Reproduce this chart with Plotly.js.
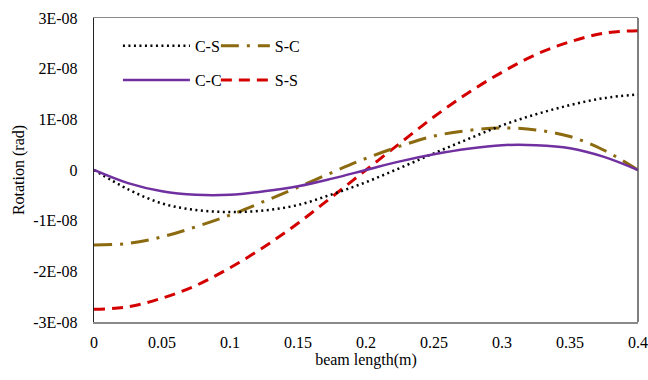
<!DOCTYPE html>
<html>
<head>
<meta charset="utf-8">
<script src="https://cdn.plot.ly/plotly-3.0.1.min.js"></script>
<style>html,body{margin:0;padding:0;background:#fff;}#chart{width:648px;height:380px;}</style>
</head>
<body>
<div id="chart"></div>
<script>
// beam length positions (m)
const beamLength = [0, 0.025, 0.05, 0.075, 0.1, 0.125, 0.15, 0.175, 0.2, 0.225, 0.25, 0.275, 0.3, 0.325, 0.35, 0.375, 0.4];
// rotations (rad)
const rotCS = [0, -0.38e-8, -0.66e-8, -0.79e-8, -0.83e-8, -0.80e-8, -0.69e-8, -0.48e-8, -0.24e-8, 0.04e-8, 0.33e-8, 0.61e-8, 0.88e-8, 1.10e-8, 1.28e-8, 1.42e-8, 1.49e-8];
const rotSC = [-1.48e-8, -1.45e-8, -1.32e-8, -1.12e-8, -0.89e-8, -0.62e-8, -0.34e-8, -0.05e-8, 0.23e-8, 0.47e-8, 0.67e-8, 0.78e-8, 0.83e-8, 0.79e-8, 0.66e-8, 0.39e-8, 0];
const rotCC = [0, -0.26e-8, -0.42e-8, -0.49e-8, -0.49e-8, -0.42e-8, -0.32e-8, -0.17e-8, 0, 0.17e-8, 0.31e-8, 0.42e-8, 0.49e-8, 0.49e-8, 0.43e-8, 0.26e-8, 0];
const rotSS = [-2.75e-8, -2.70e-8, -2.53e-8, -2.28e-8, -1.93e-8, -1.52e-8, -1.05e-8, -0.53e-8, 0, 0.53e-8, 1.05e-8, 1.52e-8, 1.93e-8, 2.28e-8, 2.53e-8, 2.70e-8, 2.75e-8];
const seriesNames = ['C-S', 'S-C', 'C-C', 'S-S'];
const yTickVals = [-3e-8, -2e-8, -1e-8, 0, 1e-8, 2e-8, 3e-8];
const yTickText = ['-3E-08', '-2E-08', '-1E-08', '0', '1E-08', '2E-08', '3E-08'];
const xTickVals = [0, 0.05, 0.1, 0.15, 0.2, 0.25, 0.3, 0.35, 0.4];
const xTickText = ['0', '0.05', '0.1', '0.15', '0.2', '0.25', '0.3', '0.35', '0.4'];

const serif = 'Liberation Serif';
const traces = [
  {x: beamLength, y: rotSS, name: seriesNames[3], mode: 'lines', line: {color: '#D40000', width: 3, dash: '11px,7px', shape: 'spline'}, legend: 'legend4'},
  {x: beamLength, y: rotSC, name: seriesNames[1], mode: 'lines', line: {color: '#8C6A10', width: 3, dash: '18px,8px,3px,8px', shape: 'spline'}, legend: 'legend2'},
  {x: beamLength, y: rotCS, name: seriesNames[0], mode: 'lines', line: {color: '#000000', width: 2.5, dash: '2px,3.5px', shape: 'spline'}, legend: 'legend'},
  {x: beamLength, y: rotCC, name: seriesNames[2], mode: 'lines', line: {color: '#7030A0', width: 2.5, shape: 'spline'}, legend: 'legend3'}
];
function leg(x, y, w) {
  return {
    orientation: 'h', xanchor: 'left', yanchor: 'middle', x: x, y: y,
    bgcolor: 'rgba(0,0,0,0)', font: {family: serif, size: 16, color: '#000'},
    itemwidth: w
  };
}
const layout = {
  width: 648, height: 380,
  margin: {l: 94, r: 10, t: 18, b: 58},
  paper_bgcolor: '#fff', plot_bgcolor: '#fff',
  font: {family: serif, size: 16, color: '#000'},
  showlegend: true,
  legend: leg(0.044, 0.908, 67),
  legend2: leg(0.224, 0.908, 49),
  legend3: leg(0.044, 0.796, 67),
  legend4: leg(0.224, 0.796, 49),
  xaxis: {
    range: [0, 0.4], tickvals: xTickVals, ticktext: xTickText,
    showgrid: false, zeroline: false, showline: true, linecolor: '#8a8a8a', linewidth: 1.5, mirror: true,
    ticks: '', ticklabelstandoff: 5, tickfont: {family: serif, size: 16},
    title: {text: 'beam length(m)', font: {family: serif, size: 16}, standoff: 0}
  },
  yaxis: {
    range: [-3e-8, 3e-8], tickvals: yTickVals, ticktext: yTickText,
    showgrid: false, zeroline: false, showline: true, linecolor: '#222', linewidth: 1.2,
    ticks: '', ticklabelstandoff: 12, tickfont: {family: serif, size: 16},
    title: {text: 'Rotation (rad)', font: {family: serif, size: 16}, standoff: 4}
  },
  shapes: [
    {type: 'line', xref: 'paper', yref: 'paper', x0: 1, x1: 1, y0: 0, y1: 1, line: {color: '#555', width: 1.5}}
  ]
};
Plotly.newPlot('chart', traces, layout, {displayModeBar: false, staticPlot: true});
</script>
</body>
</html>
